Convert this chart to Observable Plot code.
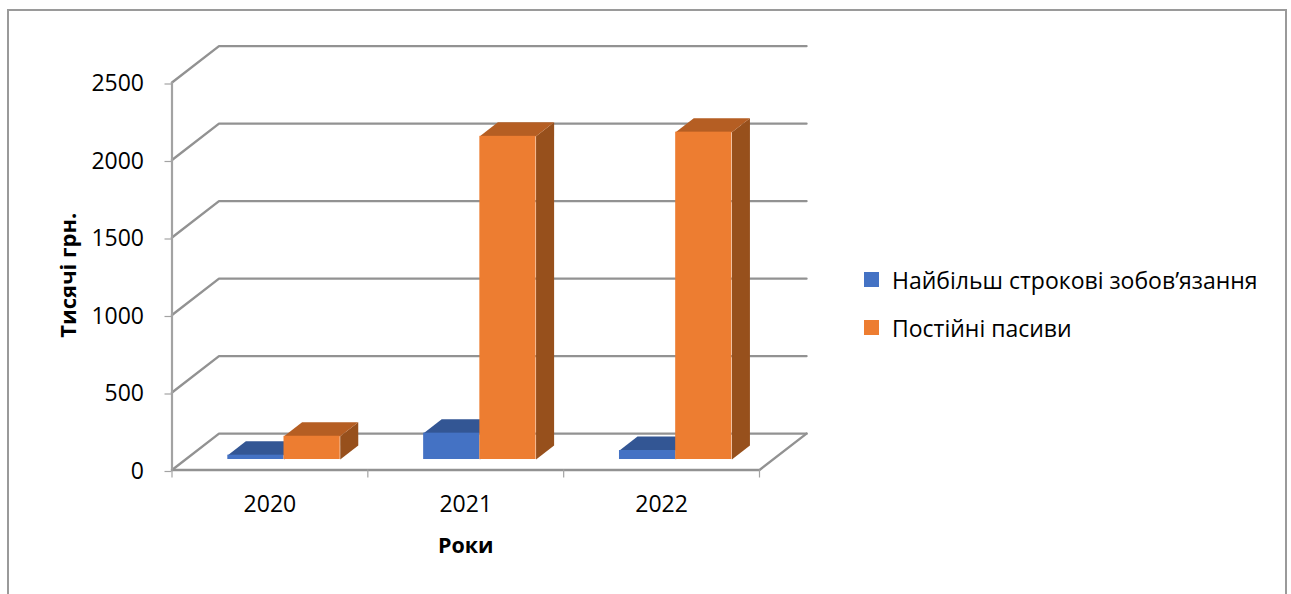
<!DOCTYPE html>
<html lang="uk">
<head>
<meta charset="utf-8">
<script src="https://cdn.jsdelivr.net/npm/d3@7"></script>
<script src="https://cdn.jsdelivr.net/npm/@observablehq/plot@0.6"></script>
<style>
  html, body { margin: 0; padding: 0; background: #fff; overflow: hidden; width: 1291px; height: 594px; }
  #chart { position: absolute; left: 0; top: 0; }
  #frame { position: absolute; left: 7px; top: 9px; width: 1276px; height: 640px; border: 2px solid #9a9a9a; box-sizing: content-box; pointer-events: none; }
  #legend { position: absolute; left: 864px; top: 0; font: 23px "Open Sans", sans-serif; color: #000; }
  .entry { position: absolute; left: 0; white-space: nowrap; line-height: 26px; }
  .entry i { position: absolute; left: 0; top: 5px; width: 15px; height: 15px; }
  .entry span { position: absolute; left: 28px; top: 0; }
</style>
</head>
<body>
<div id="frame"></div>
<div id="chart"></div>
<div id="legend"></div>
<script>
// Balance-sheet liabilities, thousand UAH
const years = ["2020", "2021", "2022"];
const seriesNames = ["Найбільш строкові зобов’язання", "Постійні пасиви"];
const shortTerm = [28, 170, 58];
const permanent = [150, 2085, 2112];
const yTicks = [0, 500, 1000, 1500, 2000, 2500];

// Face colours per series: front, top, side
const frontColors = ["#4472C4", "#ED7D31"];
const topColors = ["#335694", "#B55E23"];
const sideColors = ["#2A4779", "#97501C"];

// Oblique projection: one unit of depth shifts a point along both data axes
const depthX = 0.24;
const depthY = 235;
const project = (cat, val, depth) => ({x: cat + depth * depthX, y: val + depth * depthY});

// Where the bars stand inside each category and on the floor
const barDepth0 = 0.288;
const barDepth1 = 0.672;
const barStart = 0.285 - barDepth0 * depthX;
const barWidth = 0.287;

// Walls: each gridline runs along the side wall, then across the back
const gridPaths = yTicks.flatMap((v) => [
  {id: v, ...project(0, v, 0)},
  {id: v, ...project(0, v, 1)},
  {id: v, ...project(3, v, 1)}
]);
const floorPath = [
  project(0, 0, 0), project(3, 0, 0), project(3, 0, 1)
];

const bars = years.flatMap((year, i) =>
  [shortTerm[i], permanent[i]].map((value, s) => ({
    id: `${year}-${s}`,
    s,
    value,
    x0: i + barStart + s * barWidth,
    x1: i + barStart + (s + 1) * barWidth
  }))
);
const quad = (pts, b) => pts.map((p) => ({id: b.id, s: b.s, ...p}));
const topFaces = bars.map((b) => quad([
  project(b.x0, b.value, barDepth0),
  project(b.x1, b.value, barDepth0),
  project(b.x1, b.value, barDepth1),
  project(b.x0, b.value, barDepth1)
], b));
const sideFaces = bars.map((b) => quad([
  project(b.x1, 0, barDepth0),
  project(b.x1, b.value, barDepth0),
  project(b.x1, b.value, barDepth1),
  project(b.x1, 0, barDepth1)
], b));

// Painter's order: series by series, so orange bars cover the blue ones' sides
const barMarks = bars.flatMap((b, k) => [
  Plot.line(sideFaces[k], {x: "x", y: "y", z: "id", fill: sideColors[b.s], stroke: "none"}),
  Plot.line(topFaces[k], {x: "x", y: "y", z: "id", fill: topColors[b.s], stroke: "none"}),
  Plot.rect([b], {
    x1: (d) => project(d.x0, 0, barDepth0).x,
    x2: (d) => project(d.x1, 0, barDepth0).x,
    y1: () => project(0, 0, barDepth0).y,
    y2: (d) => project(0, d.value, barDepth0).y,
    fill: frontColors[b.s]
  })
]);

const gridColor = "#929292";
const axisColor = "#a3a3a3";
const font = "Open Sans, sans-serif";

const plot = Plot.plot({
  width: 1291,
  height: 594,
  marginLeft: 171.5,
  marginRight: 532,
  marginTop: 82,
  marginBottom: 124.5,
  style: {fontFamily: font, fontSize: "23px", background: "transparent", color: "#000"},
  x: {type: "linear", domain: [0, 3]},
  y: {domain: [0, 2500]},
  marks: [
    Plot.line(gridPaths, {x: "x", y: "y", z: "id", stroke: gridColor, strokeWidth: 2.4, strokeLinejoin: "miter"}),
    Plot.line(floorPath, {x: "x", y: "y", stroke: gridColor, strokeWidth: 2.4}),
    Plot.ruleX([0], {y1: 0, y2: 2500, stroke: axisColor, strokeWidth: 2.2}),
    Plot.axisY({ticks: yTicks, tickSize: 7, tickPadding: 21, stroke: axisColor, strokeWidth: 1.2, fill: "#000", textStroke: "none", dy: 1.5, label: null, tickFormat: (d) => String(d)}),
    Plot.axisX({ticks: [0, 1, 2, 3], tickSize: 8, stroke: axisColor, strokeWidth: 1.2, tickFormat: () => "", label: null}),
    Plot.axisX({ticks: [0.5, 1.5, 2.5], tickSize: 0, tickPadding: 26, fill: "#000", label: null, tickFormat: (d) => years[Math.floor(d)]}),
    ...barMarks,
    Plot.text(["Роки"], {frameAnchor: "bottom", dx: 0, dy: 83, fontWeight: "bold", fontSize: 21.5, fill: "#000"}),
    Plot.text(["Тисячі грн."], {frameAnchor: "left", textAnchor: "middle", dx: -103.5, dy: -1, rotate: -90, fontWeight: "bold", fontSize: 22, fill: "#000"})
  ]
});
document.getElementById("chart").append(plot);

// Legend entries
const legend = document.getElementById("legend");
seriesNames.forEach((name, s) => {
  const entry = document.createElement("div");
  entry.className = "entry";
  entry.style.top = ["267px", "315px"][s];
  const swatch = document.createElement("i");
  swatch.style.background = frontColors[s];
  const label = document.createElement("span");
  label.textContent = name;
  entry.append(swatch, label);
  legend.append(entry);
});
</script>
</body>
</html>
